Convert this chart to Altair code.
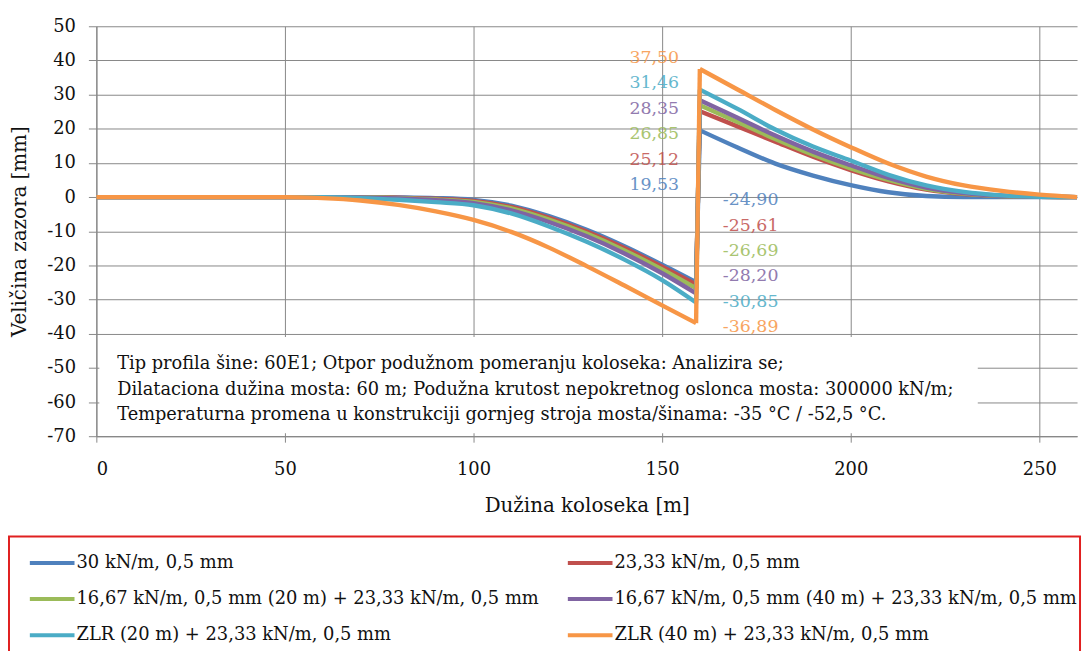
import altair as alt
import pandas as pd

series = [
    "30 kN/m, 0,5 mm",
    "23,33 kN/m, 0,5 mm",
    "16,67 kN/m, 0,5 mm (20 m) + 23,33 kN/m, 0,5 mm",
    "16,67 kN/m, 0,5 mm (40 m) + 23,33 kN/m, 0,5 mm",
    "ZLR (20 m) + 23,33 kN/m, 0,5 mm",
    "ZLR (40 m) + 23,33 kN/m, 0,5 mm",
]
colors = ["#4F81BD", "#C0504D", "#9BBB59", "#8064A2", "#4BACC6", "#F79646"]

x_pos = [0, 50, 60, 70, 80, 90, 100, 110, 120, 130, 140, 150, 159,
         160, 170, 180, 190, 200, 210, 220, 230, 240, 250, 260]

gap_blue = [0, 0, 0, 0, -0.1, -0.3, -0.8, -2.5, -5.6, -9.6, -14.4, -19.8, -24.90,
            19.53, 14.5, 9.8, 6.3, 3.5, 1.4, 0.3, 0.0, 0.0, 0.0, 0.0]
gap_red = [0, 0, 0, 0, -0.2, -0.5, -1.1, -2.9, -6.1, -10.1, -14.9, -20.4, -25.61,
           25.12, 20.7, 16.2, 11.8, 7.9, 4.6, 2.2, 0.9, 0.3, 0.05, 0.0]
gap_green = [0, 0, 0, -0.05, -0.3, -0.7, -1.4, -3.3, -6.6, -10.7, -15.6, -21.2, -26.69,
             26.85, 22.0, 17.0, 12.4, 8.4, 5.0, 2.4, 1.0, 0.3, 0.05, 0.0]
gap_purple = [0, 0, 0, -0.1, -0.4, -0.9, -1.8, -3.9, -7.3, -11.5, -16.5, -22.3, -28.20,
              28.35, 23.2, 18.0, 13.3, 9.3, 5.6, 2.8, 1.2, 0.4, 0.1, 0.0]
gap_teal = [0, 0, -0.05, -0.3, -0.8, -1.5, -2.4, -4.8, -8.6, -13.1, -18.3, -24.3, -30.85,
            31.46, 25.8, 19.8, 14.8, 10.7, 6.5, 3.4, 1.5, 0.5, 0.1, 0.0]
gap_orange = [0, 0, -0.3, -1.0, -2.3, -4.2, -6.7, -10.2, -14.8, -20.2, -25.9, -31.7, -36.89,
              37.50, 31.5, 25.5, 19.8, 14.6, 9.8, 6.0, 3.4, 1.8, 0.7, 0.0]

all_gaps = [gap_blue, gap_red, gap_green, gap_purple, gap_teal, gap_orange]

note_lines = [
    "Tip profila šine: 60E1; Otpor podužnom pomeranju koloseka: Analizira se;",
    "Dilataciona dužina mosta: 60 m; Podužna krutost nepokretnog oslonca mosta: 300000 kN/m;",
    "Temperaturna promena u konstrukciji gornjeg stroja mosta/šinama: -35 °C / -52,5 °C.",
]

FONT = "DejaVu Serif"
JUMP_AT = 160  # first x of the bridge side

rows = []
for i, (name, g) in enumerate(zip(series, all_gaps)):
    pts = list(zip(x_pos, g))
    left = [p for p in pts if p[0] < JUMP_AT]
    right = [p for p in pts if p[0] >= JUMP_AT]
    for seg, ps in (("a", left), ("c", right), ("b", [left[-1], right[0]])):
        for k, (xv, yv) in enumerate(ps):
            rows.append({"series": name, "order": i, "seg": f"{i}{seg}", "k": k, "x": xv, "y": yv})
df = pd.DataFrame(rows)

lab_rows = []
for i, (name, g) in enumerate(zip(series, all_gaps)):
    lab_rows.append({"series": name, "i": i, "kind": "max", "txt": f"{max(g):.2f}".replace(".", ",")})
    lab_rows.append({"series": name, "i": i, "kind": "min", "txt": f"{min(g):.2f}".replace(".", ",")})
lab = pd.DataFrame(lab_rows)

# legend lays out column by column; order domain so it reads row by row
leg_order = [0, 2, 4, 1, 3, 5]
dom = [series[j] for j in leg_order]
rng = [colors[j] for j in leg_order]
color_scale = alt.Scale(domain=dom, range=rng)
xs = alt.Scale(domain=[0, 260], nice=False, zero=False)
ys = alt.Scale(domain=[-70, 50], nice=False, zero=False)

x_axis = alt.Axis(title="Dužina koloseka [m]", values=[0, 50, 100, 150, 200, 250],
                  labelPadding=19, tickSize=6, titlePadding=17, labelExpr="'' + datum.value")
y_axis = alt.Axis(title="Veličina zazora [mm]", values=list(range(-70, 51, 10)),
                  tickSize=8, labelPadding=13, titleX=-77, titleBaseline="middle",
                  labelOverlap=False, labelExpr="'' + datum.value")

curves = alt.Chart(df).mark_line(strokeWidth=4.4, interpolate="monotone").encode(
    x=alt.X("x:Q", scale=xs, axis=x_axis),
    y=alt.Y("y:Q", scale=ys, axis=y_axis),
    color=alt.Color("series:N", scale=color_scale, legend=alt.Legend(title=None)),
    order=alt.Order("k:Q"),
    detail="seg:N",
)

top_labels = alt.Chart(lab).transform_filter(alt.datum.kind == "max").transform_calculate(
    x="154.5", y="3.5 + datum.i * 7.45"
).mark_text(align="right", baseline="middle", font=FONT, fontSize=17.5, opacity=0.85).encode(
    x=alt.X("x:Q", scale=xs, axis=x_axis), y=alt.Y("y:Q", scale=ys, axis=y_axis), text="txt:N",
    color=alt.Color("series:N", scale=color_scale, legend=None),
)
bot_labels = alt.Chart(lab).transform_filter(alt.datum.kind == "min").transform_calculate(
    x="166.1", y="-0.9 - datum.i * 7.45"
).mark_text(align="left", baseline="middle", font=FONT, fontSize=17.5, opacity=0.85).encode(
    x=alt.X("x:Q", scale=xs, axis=x_axis), y=alt.Y("y:Q", scale=ys, axis=y_axis), text="txt:N",
    color=alt.Color("series:N", scale=color_scale, legend=None),
)

box = alt.Chart(pd.DataFrame({"a": [0]})).mark_rect(color="white").encode(
    x=alt.value(3), x2=alt.value(888), y=alt.value(313), y2=alt.value(410)
)
legend_frame = alt.Chart(pd.DataFrame({"a": [0]})).mark_rect(
    fill="white", stroke="#e02020", strokeWidth=2
).encode(x=alt.value(-88), x2=alt.value(991), y=alt.value(514), y2=alt.value(650))

note = alt.Chart(pd.DataFrame({"t": [note_lines]})).mark_text(
    align="left", baseline="alphabetic", font=FONT, fontSize=17.9, lineHeight=26, color="#111"
).encode(x=alt.value(21), y=alt.value(345), text="t")

chart = alt.layer(curves, legend_frame, box, note, top_labels, bot_labels).properties(
    width=988, height=413,
    padding={"left": 89, "top": 16, "right": 6, "bottom": 214},
    autosize=alt.AutoSizeParams(type="none"),
).configure_view(stroke=None).configure_axis(
    labelFont=FONT, titleFont=FONT, labelFontSize=18, titleFontSize=20,
    titleFontWeight="normal", labelColor="#111", titleColor="#111",
    gridColor="#888888", domainColor="#888888", tickColor="#888888",
    gridWidth=1, domainWidth=1.2, labelOverlap=False,
).configure_legend(
    orient="none", legendX=-69, legendY=516, columns=2,
    symbolType="stroke", symbolStrokeWidth=4, symbolSize=2025,
    labelFont=FONT, labelFontSize=18, labelColor="#111", labelLimit=800,
    labelOffset=0, rowPadding=2.5, columnPadding=21, padding=0,
)

chart.save("out.html", embed_options={"renderer": "svg", "actions": False})
